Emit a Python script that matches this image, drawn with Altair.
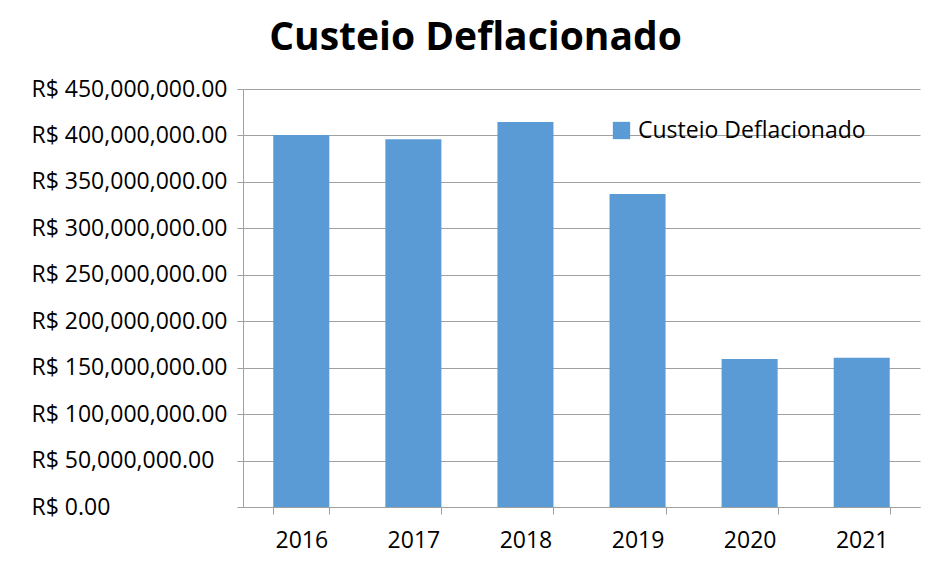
import altair as alt
import pandas as pd

years = ["2016", "2017", "2018", "2019", "2020", "2021"]
values = [400_500_000, 396_000_000, 414_500_000, 337_000_000, 159_200_000, 160_600_000]
series_name = "Custeio Deflacionado"
y_ticks = [0, 50e6, 100e6, 150e6, 200e6, 250e6, 300e6, 350e6, 400e6, 450e6]

df = pd.DataFrame({"Ano": years, "Valor": values, "Serie": [series_name] * len(years)})

FONT = "Open Sans"
GRID = "#a0a0a0"

chart = alt.Chart(df).mark_bar(color="#5B9BD5").encode(
    x=alt.X(
        "Ano:N",
        sort=years,
        scale=alt.Scale(paddingInner=0.5, paddingOuter=0.27),
        axis=alt.Axis(
            title=None, labelAngle=0, labelFontSize=23, labelFont=FONT, labelColor="black",
            tickBand="extent", tickSize=7, tickColor=GRID, domainColor=GRID,
            labelPadding=15, grid=False,
        ),
    ),
    y=alt.Y(
        "Valor:Q",
        scale=alt.Scale(domain=[0, 450e6], nice=False),
        axis=alt.Axis(
            title=None, values=y_ticks,
            labelExpr="'R$ ' + format(datum.value, ',.2f')",
            labelAlign="left", labelPadding=206, tickSize=6, labelLimit=0,
            labelFontSize=23, labelFont=FONT, labelColor="black",
            tickColor=GRID, domainColor=GRID, gridColor=GRID, gridWidth=1,
        ),
    ),
    color=alt.Color(
        "Serie:N",
        scale=alt.Scale(range=["#5B9BD5"]),
        legend=alt.Legend(
            title=None, orient="none", legendX=367, legendY=30,
            symbolType="square", symbolSize=300, symbolStrokeWidth=0, labelLimit=0,
            labelFontSize=23, labelFont=FONT, labelColor="black", labelOffset=5,
        ),
    ),
).properties(
    width=677,
    height=418,
    autosize=alt.AutoSizeParams(type="none"),
    padding={"left": 235, "top": 81, "right": 8, "bottom": 55},
    title=alt.TitleParams(
        "Custeio Deflacionado", fontSize=39, font=FONT, fontWeight="bold",
        color="black", anchor="middle", dx=-106, offset=20,
    ),
).configure_view(stroke=None)

chart.save("out.html", embed_options={"renderer": "svg", "actions": False})
